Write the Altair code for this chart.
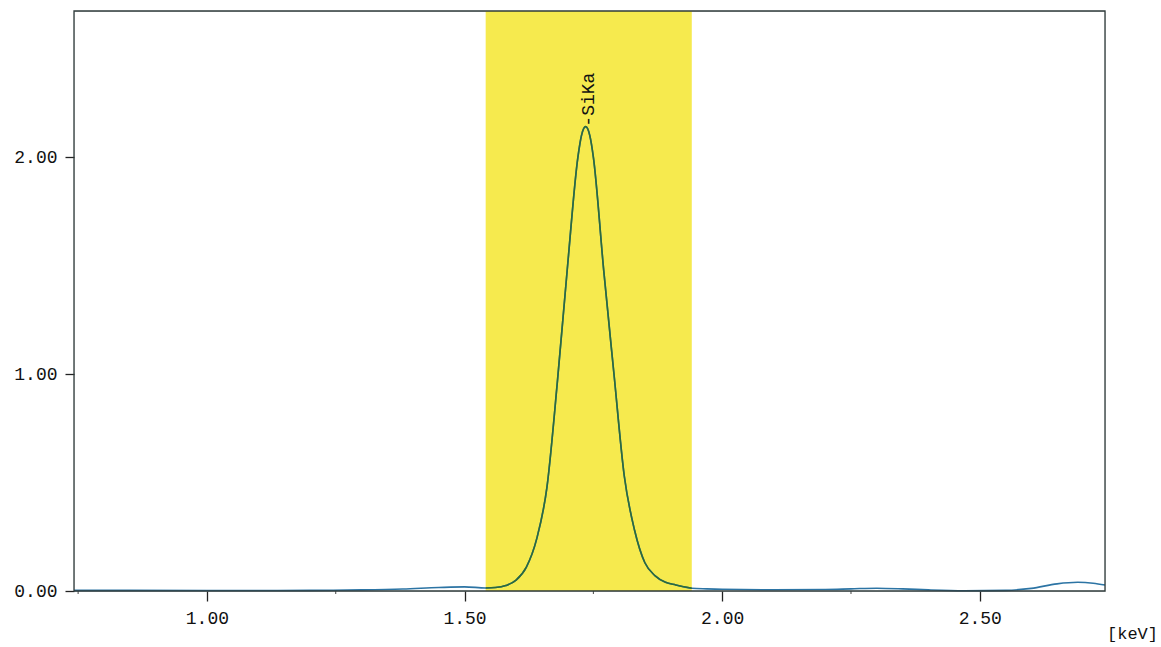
import altair as alt
import pandas as pd

# Spectrum
energy = [0.742, 0.85, 1.00, 1.10, 1.20, 1.30, 1.38, 1.45, 1.50, 1.541, 1.56, 1.58,
          1.60, 1.62, 1.64, 1.66, 1.68, 1.70, 1.72, 1.727, 1.735, 1.743, 1.75,
          1.77, 1.79, 1.81, 1.83, 1.85, 1.87, 1.89, 1.91, 1.941, 1.97, 2.00, 2.10,
          2.20, 2.25, 2.30, 2.35, 2.40, 2.47, 2.55, 2.60, 2.65, 2.69, 2.72, 2.743]
counts = [0.003, 0.003, 0.002, 0.002, 0.003, 0.005, 0.009, 0.016, 0.019, 0.014, 0.016, 0.025,
          0.050, 0.110, 0.240, 0.480, 0.960, 1.500, 2.000, 2.100, 2.140, 2.100, 2.000,
          1.480, 1.000, 0.530, 0.280, 0.130, 0.070, 0.040, 0.028, 0.013, 0.010, 0.008, 0.006,
          0.007, 0.010, 0.013, 0.010, 0.005, 0.001, 0.003, 0.012, 0.033, 0.040, 0.036, 0.028]

band_start = [1.541]
band_end = [1.941]
peak_label = ["-SiKa"]
peak_x = [1.735]
peak_y = [2.14]

x_ticks = [1.0, 1.5, 2.0, 2.5]
x_minor = [0.75, 1.25, 1.75, 2.25]
y_ticks = [0.0, 1.0, 2.0]

X_DOMAIN = [0.742, 2.743]
Y_DOMAIN = [0.0, 2.673]
W, H = 1031, 580
FONT = "Liberation Mono"

spec_df = pd.DataFrame({"e": energy, "c": counts})
band_df = pd.DataFrame({"s": band_start, "t": band_end})
lab_df = pd.DataFrame({"e": peak_x, "c": peak_y, "txt": peak_label})
minor_df = pd.DataFrame({"e": x_minor})
frame_df = pd.DataFrame({"k": [0]})

xs = alt.Scale(domain=X_DOMAIN, nice=False, zero=False)
ys = alt.Scale(domain=Y_DOMAIN, nice=False, zero=True)

band = alt.Chart(band_df).mark_rect(color="#f6ea4e", opacity=1).encode(
    x=alt.X("s:Q", scale=xs, axis=alt.Axis(
        values=x_ticks, format=".2f", title="[keV]", grid=False, domain=False,
        tickSize=10, tickColor="#222", tickWidth=1.3,
        labelFont=FONT, labelFontSize=18, labelColor="#111", labelPadding=8,
        titleFont=FONT, titleFontSize=17, titleFontWeight="normal", titleColor="#111",
        titleX=1058, titleY=42, titleAlign="center", titleBaseline="middle")),
    x2="t:Q",
    y=alt.value(0),
    y2=alt.value(H),
)

minor = alt.Chart(minor_df).mark_rule(color="#444", strokeWidth=1).encode(
    x=alt.X("e:Q", scale=xs),
    y=alt.value(H),
    y2=alt.value(H + 3),
)

line = alt.Chart(spec_df).mark_line(
    color="#2c74a4", strokeWidth=1.6, interpolate="monotone"
).encode(
    x=alt.X("e:Q", scale=xs),
    y=alt.Y("c:Q", scale=ys, axis=alt.Axis(
        values=y_ticks, format=".2f", title=None, grid=False, domain=False,
        tickSize=9, tickColor="#222", tickWidth=1.3,
        labelFont=FONT, labelFontSize=18, labelColor="#111", labelPadding=8)),
)

# the part of the trace seen through the yellow band looks green
line_in_band = alt.Chart(spec_df).transform_filter(
    (alt.datum.e >= band_start[0]) & (alt.datum.e <= band_end[0])
).mark_line(
    color="#2d6a3a", strokeWidth=1.6, interpolate="monotone"
).encode(
    x=alt.X("e:Q", scale=xs),
    y=alt.Y("c:Q", scale=ys),
)

label = alt.Chart(lab_df).mark_text(
    font=FONT, fontSize=18, angle=270, align="left", baseline="middle",
    dx=0, dy=3, color="#111"
).encode(
    x=alt.X("e:Q", scale=xs),
    y=alt.Y("c:Q", scale=ys),
    text="txt:N",
)

# dark plot frame
frame = alt.Chart(frame_df).mark_rect(
    fillOpacity=0, stroke="#2f3b3b", strokeWidth=1.3
).encode(
    x=alt.value(0), x2=alt.value(W), y=alt.value(0), y2=alt.value(H),
)

chart = alt.layer(band, minor, line, line_in_band, label, frame).properties(
    width=W, height=H,
    autosize=alt.AutoSizeParams(type="none"),
    padding={"left": 74, "top": 11, "right": 56, "bottom": 56},
).configure(background="white")

chart.save("out.html", embed_options={"renderer": "svg", "actions": False})
